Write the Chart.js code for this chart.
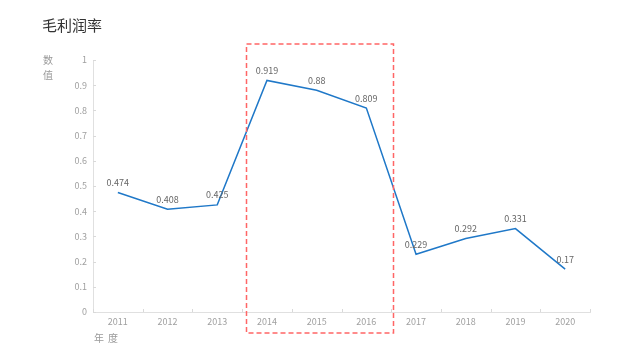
<!DOCTYPE html>
<html><head><meta charset="utf-8">
<script src="https://cdn.jsdelivr.net/npm/chart.js@4/dist/chart.umd.min.js"></script>
<style>html,body{margin:0;padding:0;background:#fff}#wrap{width:640px;height:360px}</style>
</head><body><div id="wrap"><canvas id="c" width="640" height="360"></canvas></div>
<script>
const years = ['2011','2012','2013','2014','2015','2016','2017','2018','2019','2020'];
const grossMargin = [0.474, 0.408, 0.425, 0.919, 0.88, 0.809, 0.229, 0.292, 0.331, 0.17];
const yTicks = [0, 0.1, 0.2, 0.3, 0.4, 0.5, 0.6, 0.7, 0.8, 0.9, 1];
const titleText = '毛利润率';
const yAxisName = ['数', '值'];
const xAxisName = ['年', '度'];
const highlightFrom = 3, highlightTo = 5;

const FONT = '"Noto Sans CJK SC", "Noto Sans", sans-serif';

const decor = {
  id: 'decor',
  afterDatasetsDraw(chart) {
    const ctx = chart.ctx, xs = chart.scales.x, ys = chart.scales.y, ca = chart.chartArea;
    ctx.save();
    // inner tick marks
    ctx.strokeStyle = '#d9d9d9'; ctx.lineWidth = 1;
    const step = xs.getPixelForValue(1) - xs.getPixelForValue(0);
    for (let i = 0; i <= years.length; i++) {
      const x = Math.round(xs.getPixelForValue(0) - step / 2 + i * step) + 0.5;
      ctx.beginPath(); ctx.moveTo(x, ca.bottom); ctx.lineTo(x, ca.bottom - 3); ctx.stroke();
    }
    yTicks.forEach(v => {
      const y = Math.round(ys.getPixelForValue(v)) + 0.5;
      ctx.beginPath(); ctx.moveTo(ca.left, y); ctx.lineTo(ca.left + 3, y); ctx.stroke();
    });
    // data labels
    const meta = chart.getDatasetMeta(0);
    ctx.font = '9px ' + FONT; ctx.fillStyle = '#666'; ctx.textAlign = 'center'; ctx.textBaseline = 'middle';
    meta.data.forEach((pt, i) => { ctx.fillText(String(grossMargin[i]), pt.x, pt.y - 10); });
    // highlight rect
    const l = xs.getPixelForValue(highlightFrom) - 0.43 * step;
    const r = xs.getPixelForValue(highlightTo) + 0.52 * step;
    ctx.strokeStyle = '#ff6666'; ctx.lineWidth = 1.5; ctx.setLineDash([5, 3]);
    ctx.strokeRect(Math.round(l) + 0.5, ca.top - 16, Math.round(r - l), ca.bottom - ca.top + 37);
    ctx.setLineDash([]);
    // title & axis names
    ctx.textAlign = 'left'; ctx.textBaseline = 'middle';
    ctx.font = '15px ' + FONT; ctx.fillStyle = '#333';
    ctx.fillText(titleText, 42, 25);
    ctx.font = '10px ' + FONT; ctx.fillStyle = '#999';
    ctx.fillText(yAxisName[0], 43, 60);
    ctx.fillText(yAxisName[1], 43, 75);
    ctx.fillText(xAxisName[0], 94, 338);
    ctx.fillText(xAxisName[1], 108, 338);
    ctx.restore();
  }
};

new Chart(document.getElementById('c'), {
  type: 'line',
  data: { labels: years, datasets: [{ data: grossMargin, borderColor: '#1f78c8', borderWidth: 1.5, tension: 0, pointRadius: 0, pointHoverRadius: 0, fill: false }] },
  options: {
    responsive: false, animation: false,
    layout: { padding: { left: 0, right: 50, top: 60, bottom: 0 } },
    plugins: { legend: { display: false }, title: { display: false }, tooltip: { enabled: false } },
    scales: {
      x: {
        offset: true,
        grid: { display: false, drawTicks: false },
        border: { display: true, color: '#e0e0e0' },
        ticks: { color: '#a0a0a0', font: { size: 9, family: FONT }, padding: 4, maxRotation: 0 },
        afterFit(s) { s.height = 48; }
      },
      y: {
        min: 0, max: 1,
        afterBuildTicks(s) { s.ticks = yTicks.map(v => ({ value: v })); },
        grid: { display: false, drawTicks: false },
        border: { display: true, color: '#e0e0e0' },
        ticks: { color: '#a0a0a0', font: { size: 9, family: FONT }, padding: 6, callback: v => String(Number(v.toFixed(1))) },
        afterFit(s) { s.width = 93; }
      }
    }
  },
  plugins: [decor]
});
</script></body></html>
